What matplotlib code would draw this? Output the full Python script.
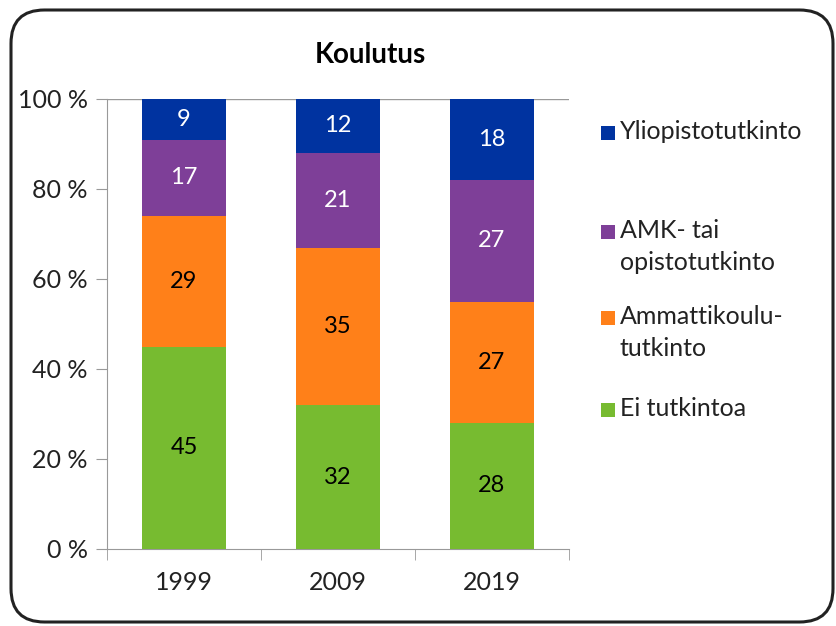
import matplotlib
matplotlib.use( 'Agg' )
from matplotlib import pyplot as plt
from matplotlib.patches import FancyBboxPatch, Rectangle
import numpy as np

#------------------------------------------------------------------
# Data.
#
years = [ '1999', '2009', '2019' ]
ei_tutkintoa = [ 45, 32, 28 ]
ammattikoulu = [ 29, 35, 27 ]
amk_opisto = [ 17, 21, 27 ]
yliopisto = [ 9, 12, 18 ]

series = [ ei_tutkintoa, ammattikoulu, amk_opisto, yliopisto ]
names = [ 'Ei tutkintoa', 'Ammattikoulu-\ntutkinto', 'AMK- tai\nopistotutkinto', 'Yliopistotutkinto' ]
colors = [ '#77bb30', '#ff8019', '#7e3f98', '#0033a0' ]
text_colors = [ 'black', 'black', 'white', 'white' ]

plt.rcParams[ 'font.family' ] = [ 'Lato', 'DejaVu Sans' ]

W, H = 837, 626
fig = plt.figure( figsize = ( W / 100, H / 100 ), dpi = 100 )

# Rounded outer frame.
frame = FancyBboxPatch( ( 11 / W, 4 / H ), 822 / W, 612 / H,
                        boxstyle = 'round,pad=0,rounding_size=0.04',
                        transform = fig.transFigure, facecolor = 'white',
                        edgecolor = '#222222', linewidth = 2.2, zorder = 0,
                        mutation_aspect = W / H )
fig.patches.append( frame )

ax = fig.add_axes( [ 107 / W, 1 - 549 / H, 462 / W, 450 / H ] )
ax.set_facecolor( 'none' )
ax.set_zorder( 2 )

x = np.arange( len( years ) )
bottom = np.zeros( len( years ) )
for vals, col, tcol in zip( series, colors, text_colors ):
    vals = np.array( vals, dtype = float )
    ax.bar( x, vals, width = 0.54, bottom = bottom, color = col, zorder = 3 )
    for xi, b, v in zip( x, bottom, vals ):
        ax.text( xi, b + v / 2, f'{int( v )}', ha = 'center', va = 'center',
                 color = tcol, fontsize = 17, zorder = 4 )
    bottom += vals

ax.set_xlim( -0.5, 2.5 )
ax.set_ylim( 0, 100 )
ax.axhline( 100, color = '#999999', linewidth = 1.0, zorder = 2 )

ax.set_yticks( np.arange( 0, 101, 20 ) )
ax.set_yticklabels( [ f'{v} %' for v in range( 0, 101, 20 ) ] )
ax.set_xticks( x )
ax.set_xticklabels( years )
ax.set_xticks( [ -0.5, 0.5, 1.5, 2.5 ], minor = True )

for s in [ 'top', 'right' ]:
    ax.spines[ s ].set_visible( False )
for s in [ 'left', 'bottom' ]:
    ax.spines[ s ].set_color( '#999999' )

ax.tick_params( axis = 'y', which = 'major', length = 8, color = '#999999',
                labelsize = 18, labelcolor = '#222222', pad = 6 )
ax.tick_params( axis = 'x', which = 'major', length = 0, labelsize = 18,
                labelcolor = '#222222', pad = 16 )
ax.tick_params( axis = 'x', which = 'minor', length = 8, color = '#999999' )

fig.text( 370 / W, 1 - 55 / H, 'Koulutus', ha = 'center', va = 'center',
          fontsize = 20, fontweight = 'bold', color = 'black' )

# Legend, drawn by hand to match the spacing (top entry first).
legend_y = [ 133, 232, 318, 410 ]   # first-line centre, pixels from top
for ly, name, col in zip( legend_y, names[ ::-1 ], colors[ ::-1 ] ):
    fig.patches.append( Rectangle( ( 601 / W, 1 - ( ly + 7 ) / H ), 14 / W, 14 / H,
                                   transform = fig.transFigure, facecolor = col,
                                   edgecolor = 'none', zorder = 3 ) )
    fig.text( 620 / W, 1 - ( ly - 13 ) / H, name, ha = 'left', va = 'top',
              fontsize = 18, color = '#222222', linespacing = 1.45 )

fig.savefig( 'out.png', dpi = 100 )
